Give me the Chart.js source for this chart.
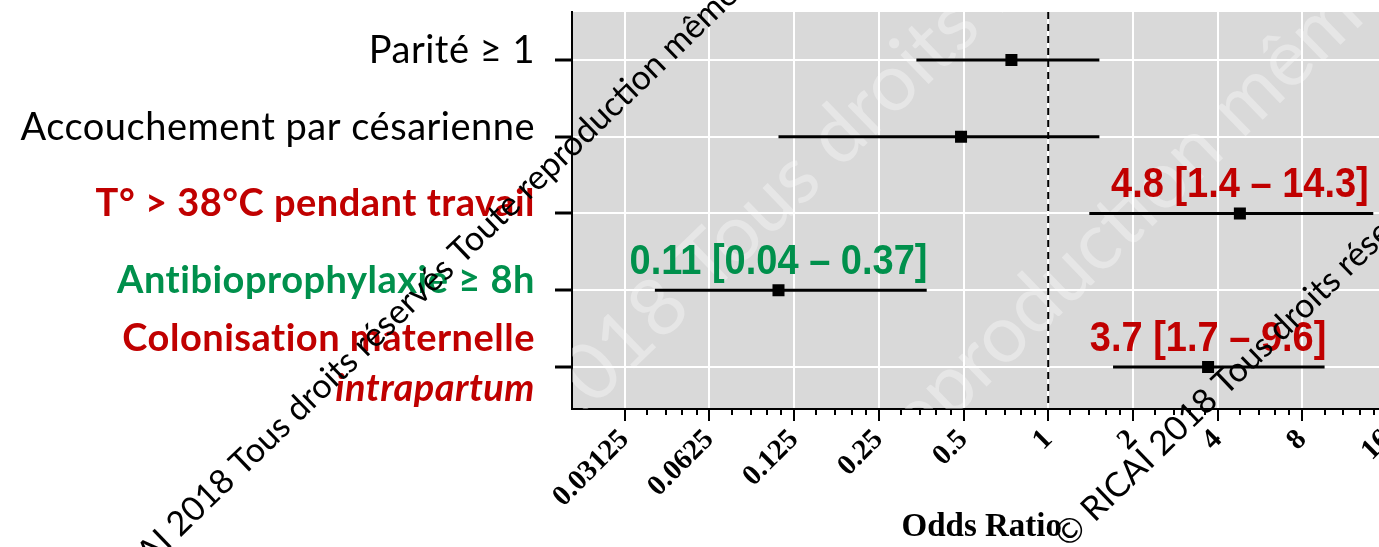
<!DOCTYPE html>
<html>
<head>
<meta charset="utf-8">
<script src="https://cdn.jsdelivr.net/npm/chart.js@4/dist/chart.umd.min.js"></script>
<style>
  html, body { margin: 0; padding: 0; background: #fff; overflow: hidden; }
  #wrap { width: 1400px; height: 547px; }
</style>
</head>
<body>
<div id="wrap"><canvas id="chart" width="1400" height="547"></canvas></div>
<script>
// === DATA ===

const factorLines = [
  ["Parité ≥ 1"],
  ["Accouchement par césarienne"],
  ["T° > 38°C pendant travail"],
  ["Antibioprophylaxie ≥ 8h"],
  ["Colonisation maternelle", "intrapartum"]
];
const factorColors = ["#000000", "#000000", "#C00000", "#00904C", "#C00000"];
const factorBold = [false, false, true, true, true];

const oddsRatio = [0.74, 0.49, 4.8, 0.11, 3.7];
const ciLow = [0.34, 0.11, 1.4, 0.04, 1.7];
const ciHigh = [1.52, 1.52, 14.3, 0.37, 9.6];
const estimateText = [null, null, "4.8 [1.4 – 14.3]", "0.11 [0.04 – 0.37]", "3.7 [1.7 – 9.6]"];

const xTicks = [0.03125, 0.0625, 0.125, 0.25, 0.5, 1, 2, 4, 8, 16];
const minorSteps = [1.2, 1.4, 1.6, 1.8];

const watermark = "© RICAI 2018 Tous droits réservés Toute reproduction même partielle interdite";

// === SCALE LIMITS ===

const X_MIN = 0.0203;
const X_MAX = 16.6;
const Y_MIN = 0.375;
const Y_MAX = 5.547;

// === DATASETS ===

const rowY = i => i + 1;

const ciSets = factorLines.map((f, i) => ({
  type: "line",
  data: [{ x: ciLow[i], y: rowY(i) }, { x: ciHigh[i], y: rowY(i) }],
  borderColor: "#000",
  borderWidth: 3,
  pointRadius: 0,
  showLine: true
}));

const pointSet = {
  type: "scatter",
  data: oddsRatio.map((v, i) => ({ x: v, y: rowY(i) })),
  pointStyle: "rect",
  pointRadius: 8.5,
  backgroundColor: "#000",
  borderWidth: 0
};

const refLine = {
  type: "line",
  data: [{ x: 1, y: Y_MIN }, { x: 1, y: Y_MAX }],
  borderColor: "#000",
  borderWidth: 2,
  borderDash: [7, 5],
  pointRadius: 0,
  showLine: true
};

// === PLUGINS ===

const panelBackground = {
  id: "panelBackground",
  beforeDraw(chart) {
    const { ctx, chartArea: a } = chart;
    ctx.save();
    ctx.fillStyle = "#D9D9D9";
    ctx.fillRect(a.left, a.top, a.right - a.left, a.bottom - a.top);
    ctx.restore();
  },
  beforeDatasetsDraw(chart) {
    // faint white watermark over the panel
    const { ctx, chartArea: a } = chart;
    ctx.save();
    ctx.beginPath();
    ctx.rect(a.left, a.top, a.right - a.left, a.bottom - a.top);
    ctx.clip();
    ctx.fillStyle = "rgba(255,255,255,0.35)";
    ctx.font = "80px Lato";
    [[560, 440, "2018 Tous droits réservés"], [900, 470, "reproduction même"]].forEach(([px, py, txt]) => {
      ctx.save();
      ctx.translate(px, py);
      ctx.rotate(-44 * Math.PI / 180);
      ctx.fillText(txt, 0, 0);
      ctx.restore();
    });
    ctx.restore();
  }
};

const forestText = {
  id: "forestText",
  afterDraw(chart) {
    const { ctx, chartArea: a, scales: { x, y } } = chart;
    ctx.save();

    // minor ticks on the odds ratio axis
    ctx.strokeStyle = "#000";
    ctx.lineWidth = 2;
    xTicks.forEach(t => minorSteps.forEach(m => {
      const v = t * m;
      if (v < X_MIN || v > X_MAX) return;
      const px = Math.round(x.getPixelForValue(v));
      ctx.beginPath();
      ctx.moveTo(px, a.bottom);
      ctx.lineTo(px, a.bottom + 6);
      ctx.stroke();
    }));

    // factor labels on the left
    ctx.textAlign = "right";
    ctx.textBaseline = "alphabetic";
    ctx.letterSpacing = "0.5px";
    factorLines.forEach((lines, i) => {
      const py = y.getPixelForValue(rowY(i));
      ctx.fillStyle = factorColors[i];
      lines.forEach((txt, k) => {
        const italic = k > 0 ? "italic " : "";
        const weight = factorBold[i] ? "bold " : "";
        ctx.font = italic + weight + "38px Lato";
        ctx.fillText(txt, 535, py + 3 - (lines.length - 1) * 19 + k * 50);
      });
    });
    ctx.letterSpacing = "0px";

    // estimates above the significant rows (slightly tall glyphs)
    ctx.textAlign = "center";
    ctx.font = "bold 38px 'Liberation Sans', sans-serif";
    estimateText.forEach((txt, i) => {
      if (!txt) return;
      ctx.save();
      ctx.translate(x.getPixelForValue(oddsRatio[i]), y.getPixelForValue(rowY(i)) - 16);
      ctx.scale(1, 1.1);
      ctx.fillStyle = factorColors[i];
      ctx.fillText(txt, 0, 0);
      ctx.restore();
    });

    // black diagonal watermark
    ctx.fillStyle = "#000";
    ctx.textAlign = "left";
    ctx.font = "34px Lato";
    const ang = 44 * Math.PI / 180;
    const lead = ctx.measureText("© RICAI ").width;
    [[180 - lead * Math.cos(ang), 538 + lead * Math.sin(ang)], [1068, 549]].forEach(([px, py]) => {
      ctx.save();
      ctx.translate(px, py);
      ctx.rotate(-ang);
      ctx.fillText(watermark, 0, 0);
      ctx.restore();
    });

    ctx.restore();
  }
};

// === CHART ===

new Chart(document.getElementById("chart"), {
  type: "scatter",
  data: { datasets: [refLine, ...ciSets, pointSet] },
  options: {
    responsive: false,
    animation: false,
    layout: { padding: { top: 12, right: 6, bottom: 0, left: 0 } },
    plugins: { legend: { display: false }, tooltip: { enabled: false } },
    scales: {
      x: {
        type: "logarithmic",
        position: "bottom",
        min: X_MIN,
        max: X_MAX,
        afterBuildTicks: s => { s.ticks = xTicks.map(v => ({ value: v })); },
        afterFit: s => { s.height = 138; s.paddingLeft = 0; s.paddingRight = 0; },
        ticks: {
          autoSkip: false,
          minRotation: 45,
          maxRotation: 45,
          padding: 2,
          color: "#000",
          font: { family: "Liberation Serif", weight: "bold", size: 29 },
          callback: v => String(v)
        },
        grid: { color: "#fff", lineWidth: 2, tickColor: "#000", tickLength: 12, tickWidth: 2 },
        border: { color: "#000", width: 2 },
        title: {
          display: true,
          text: "Odds Ratio",
          color: "#000",
          font: { family: "Liberation Serif", weight: "bold", size: 33 },
          padding: { top: 0, bottom: 0 }
        }
      },
      y: {
        type: "linear",
        reverse: true,
        min: Y_MIN,
        max: Y_MAX,
        afterBuildTicks: s => { s.ticks = factorLines.map((f, i) => ({ value: rowY(i) })); },
        afterFit: s => { s.width = 572; },
        ticks: { display: false },
        grid: { color: "#fff", lineWidth: 2, tickColor: "#000", tickLength: 17, tickWidth: 3 },
        border: { color: "#000", width: 2 }
      }
    }
  },
  plugins: [panelBackground, forestText]
});
</script>
</body>
</html>
